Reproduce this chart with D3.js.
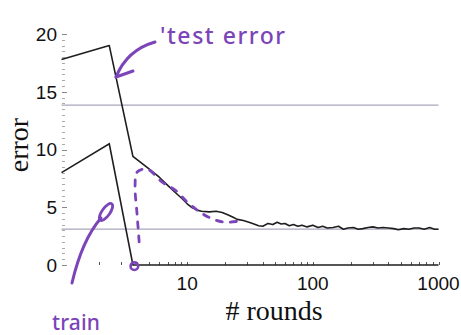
<!DOCTYPE html>
<html>
<head>
<meta charset="utf-8">
<script src="https://cdn.jsdelivr.net/npm/d3@7"></script>
<style>
  html, body { margin: 0; padding: 0; background: #fff; }
  svg { display: block; }
</style>
</head>
<body>
<svg id="chart" width="461" height="335"></svg>
<script>
// DATA
var testRounds = [1, 2.4, 3.7, 5, 6, 7, 8, 9, 10, 11, 12, 13, 15, 17, 19, 21, 23, 25, 28, 31, 34, 37, 40, 44, 48, 52, 56, 60, 65, 70, 76, 82, 90, 100, 110, 120, 130, 145, 160, 175, 190, 210, 230, 250, 275, 300, 330, 360, 400, 440, 480, 530, 580, 640, 700, 770, 850, 930, 1000];
var testError = [17.8, 19.0, 9.4, 8.3, 7.6, 6.9, 6.3, 5.8, 5.3, 4.95, 4.75, 4.65, 4.6, 4.65, 4.55, 4.35, 4.15, 3.95, 3.85, 3.7, 3.55, 3.4, 3.35, 3.6, 3.5, 3.7, 3.55, 3.6, 3.4, 3.5, 3.35, 3.45, 3.3, 3.45, 3.25, 3.35, 3.2, 3.25, 3.35, 3.1, 3.2, 3.25, 3.1, 3.15, 3.25, 3.3, 3.2, 3.25, 3.2, 3.15, 3.05, 3.15, 3.1, 3.2, 3.2, 3.1, 3.25, 3.1, 3.1];

var trainRounds = [1, 2.4, 3.7, 1000];
var trainError = [8.0, 10.5, 0, 0];

// reference levels (gray horizontal lines)
var refLevels = [13.85, 3.1];

var yTickLabels = [0, 5, 10, 15, 20];
var xTickLabels = [10, 100, 1000];

// hand drawn dashed sketch (rounds, error)
var sketchRounds = [4.15, 4.0, 3.85, 4.0, 4.8, 6.3, 8.2, 10, 12, 14.7, 19.4, 26.4];
var sketchError = [2.0, 4.3, 6.9, 8.05, 8.3, 7.2, 6.4, 5.45, 4.76, 4.16, 3.72, 3.81];

// SCALES
var svg = d3.select("#chart");
var x = d3.scaleLog().domain([1, 1000]).range([61.5, 438.5]);
var y = d3.scaleLinear().domain([0, 20]).range([265, 34]);

var purple = "#7b44b8";

// Y AXIS (dotted ticks every 0.5, labels every 5)
svg.append("g").selectAll("line")
    .data(d3.range(0, 20.01, 0.5))
    .enter().append("line")
    .attr("x1", 62).attr("x2", function(d) { return d % 5 === 0 ? 67 : 65; })
    .attr("y1", function(d) { return Math.round(y(d)) + 0.5; })
    .attr("y2", function(d) { return Math.round(y(d)) + 0.5; })
    .attr("stroke", function(d) { return d % 5 === 0 ? "#888" : "#aaa"; })
    .attr("stroke-width", 1);

svg.append("g").selectAll("text")
    .data(yTickLabels)
    .enter().append("text")
    .attr("x", 57)
    .attr("y", function(d) { return y(d); })
    .attr("dy", "0.36em")
    .attr("text-anchor", "end")
    .style("font-family", "'Liberation Sans', Arial, sans-serif")
    .style("font-size", "19px")
    .attr("fill", "#111")
    .text(function(d) { return d; });

// X AXIS (log ticks, no axis line)
svg.append("g").selectAll("line")
    .data(x.ticks().filter(function(d) { return d > 1; }))
    .enter().append("line")
    .attr("x1", function(d) { return Math.round(x(d)) + 0.5; })
    .attr("x2", function(d) { return Math.round(x(d)) + 0.5; })
    .attr("y1", 262).attr("y2", 265)
    .attr("stroke", "#555")
    .attr("stroke-width", 1);

svg.append("g").selectAll("text")
    .data(xTickLabels)
    .enter().append("text")
    .attr("x", function(d) { return x(d); })
    .attr("y", 290)
    .attr("text-anchor", "middle")
    .style("font-family", "'Liberation Sans', Arial, sans-serif")
    .style("font-size", "19px")
    .attr("fill", "#111")
    .text(function(d) { return d; });

// AXIS TITLES
svg.append("text")
    .attr("x", 274).attr("y", 320)
    .attr("text-anchor", "middle")
    .style("font-family", "'Liberation Serif', 'Times New Roman', serif")
    .style("font-size", "28px")
    .attr("fill", "#111")
    .text("# rounds");

svg.append("text")
    .attr("transform", "translate(28,145) rotate(-90)")
    .attr("text-anchor", "middle")
    .style("font-family", "'Liberation Serif', 'Times New Roman', serif")
    .style("font-size", "28px")
    .attr("fill", "#111")
    .text("error");

// REFERENCE LINES
svg.append("g").selectAll("line")
    .data(refLevels)
    .enter().append("line")
    .attr("x1", x(1)).attr("x2", x(1000))
    .attr("y1", function(d) { return y(d); })
    .attr("y2", function(d) { return y(d); })
    .attr("stroke", "#a9a7bb")
    .attr("stroke-width", 1.2);

// SERIES
var line = d3.line()
    .x(function(d) { return x(d[0]); })
    .y(function(d) { return y(d[1]); });

svg.append("path")
    .datum(d3.zip(trainRounds, trainError))
    .attr("d", line)
    .attr("fill", "none")
    .attr("stroke", "#1e1e1e")
    .attr("stroke-width", 1.6);

svg.append("path")
    .datum(d3.zip(testRounds, testError))
    .attr("d", line)
    .attr("fill", "none")
    .attr("stroke", "#1e1e1e")
    .attr("stroke-width", 1.6)
    .attr("stroke-linejoin", "round");

// HAND DRAWN NOTES
var sketch = d3.line().curve(d3.curveCatmullRom)
    .x(function(d) { return x(d[0]); })
    .y(function(d) { return y(d[1]); });

svg.append("path")
    .datum(d3.zip(sketchRounds, sketchError))
    .attr("d", sketch)
    .attr("fill", "none")
    .attr("stroke", purple)
    .attr("stroke-width", 2.8)
    .attr("stroke-linecap", "round")
    .attr("stroke-dasharray", "6,8");

svg.append("circle")
    .attr("cx", x(3.8)).attr("cy", y(-0.1))
    .attr("r", 3.8)
    .attr("fill", "none")
    .attr("stroke", purple)
    .attr("stroke-width", 2.6);

// test error arrow
svg.append("path")
    .attr("d", "M155,42 Q127,50 116,77")
    .attr("fill", "none")
    .attr("stroke", purple)
    .attr("stroke-width", 3)
    .attr("stroke-linecap", "round");
svg.append("path")
    .attr("d", "M116,77 L133,71")
    .attr("fill", "none")
    .attr("stroke", purple)
    .attr("stroke-width", 3)
    .attr("stroke-linecap", "round");

svg.append("text")
    .attr("x", 160).attr("y", 44)
    .attr("textLength", 125)
    .attr("lengthAdjust", "spacing")
    .style("font-family", "'Noto Sans', sans-serif")
    .style("font-size", "23px")
    .style("font-weight", "500")
    .attr("fill", purple)
    .text("'test error");

// train arrow
svg.append("path")
    .attr("d", "M72,283 Q82,240 101,218")
    .attr("fill", "none")
    .attr("stroke", purple)
    .attr("stroke-width", 3)
    .attr("stroke-linecap", "round");
svg.append("ellipse")
    .attr("transform", "translate(106,212) rotate(-55)")
    .attr("rx", 10).attr("ry", 4)
    .attr("fill", "none")
    .attr("stroke", purple)
    .attr("stroke-width", 2.8);

svg.append("text")
    .attr("x", 52).attr("y", 330)
    .attr("textLength", 48)
    .attr("lengthAdjust", "spacing")
    .style("font-family", "'Noto Sans', sans-serif")
    .style("font-size", "21px")
    .style("font-weight", "500")
    .attr("fill", purple)
    .text("train");
</script>
</body>
</html>
